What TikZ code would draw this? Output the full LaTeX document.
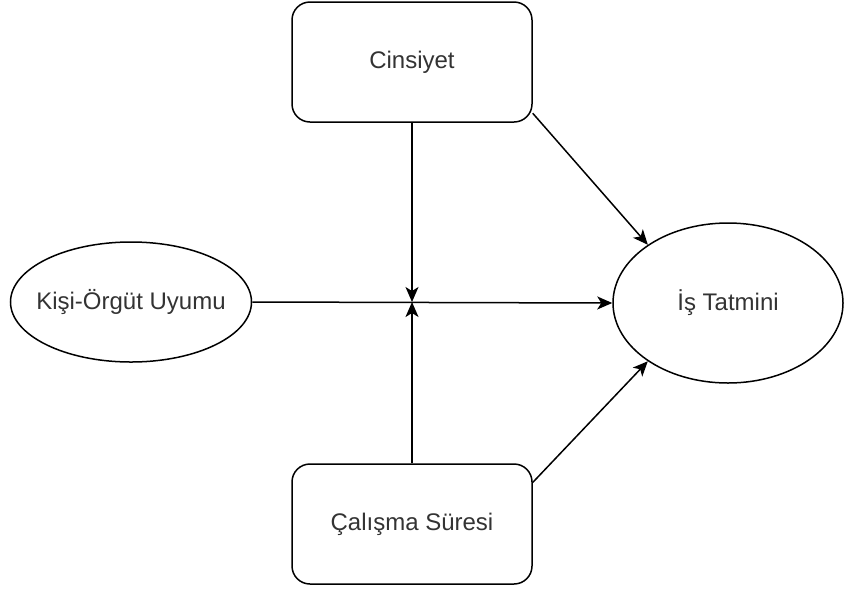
\documentclass[tikz,border=0pt]{standalone}
\usepackage{fontspec}
\setmainfont{Liberation Sans}
\usetikzlibrary{shapes.geometric,arrows.meta}
\definecolor{txt}{HTML}{333333}
\tikzset{
  box/.style={draw=black,line width=1.5pt,rounded corners=18pt,minimum width=240pt,minimum height=120pt,inner sep=0pt,text=txt,font=\fontsize{24}{28}\selectfont},
  oval/.style={draw=black,line width=1.5pt,ellipse,inner sep=0pt,text=txt,font=\fontsize{24}{28}\selectfont},
  arr/.style={line width=1.5pt,-{Stealth[length=15pt,width=13pt,inset=4pt]}}
}
\begin{document}
\begin{tikzpicture}[x=1pt,y=-1pt]
\useasboundingbox (0,0) rectangle (845,590);
\node[box] (cins) at (412,62) {Cinsiyet};
\node[box] (calis) at (412,524) {Çalışma Süresi};
\node[oval,inner xsep=-20pt,minimum width=241pt,minimum height=120pt] (kou) at (131,302) {Kişi-Örgüt Uyumu};
\node[oval,minimum width=230pt,minimum height=160pt] (sat) at (728,303) {İş Tatmini};
\coordinate (mid) at (412,302);
\draw[arr] (kou.east) -- (sat.west);
\draw[arr] (cins.south) -- (mid);
\draw[arr] (calis.north) -- (mid);
\draw[arr] (cins.-23) -- (sat.144);
\draw[arr] (calis.19) -- (sat.216);
\end{tikzpicture}
\end{document}
